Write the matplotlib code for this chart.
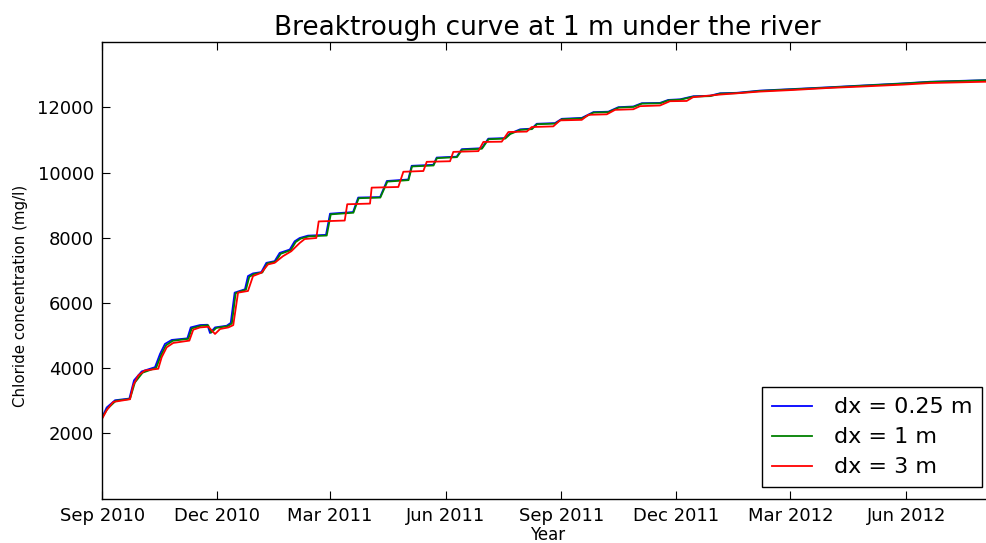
import numpy as np
import matplotlib
matplotlib.use("Agg")
import matplotlib.pyplot as plt
import matplotlib.dates as mdates
from datetime import datetime, timedelta

# ---- data (days since 2010-09-01, chloride in mg/l) ----
blue_days = [0, 3.5, 10.1, 21.5, 25.2, 31.3, 41.9, 45.9, 49.8, 55.2,
             67.6, 70.3, 77.7, 83.5, 85.6, 89.6, 98.9, 102.1, 105.2, 109.2,
             113.4, 115.8, 119.8, 126.4, 130.4, 137.0, 141.0, 149.0, 152.9, 156.9,
             163.5, 177.8, 181.0, 199.3, 203.4, 220.8, 226.2, 243.2, 245.9, 263.1,
             265.8, 281.7, 285.7, 301.6, 306.8, 320.1, 324.1, 332.1, 341.3, 345.3,
             359.8, 365.2, 381.1, 390.3, 402.2, 410.2, 422.1, 428.8, 443.3, 449.9,
             459.2, 469.8, 483.0, 491.0, 504.3, 522.8, 549.3, 576.8, 602.3, 636.7,
             657.9, 708]
blue_vals = [2506, 2793, 3015, 3067, 3625, 3899, 4030, 4439, 4744, 4866,
             4915, 5250, 5323, 5332, 5079, 5250, 5302, 5390, 6317, 6369,
             6420, 6826, 6908, 6948, 7232, 7284, 7537, 7640, 7893, 7994,
             8067, 8090, 8740, 8790, 9235, 9250, 9744, 9790, 10210, 10240,
             10463, 10490, 10720, 10750, 11043, 11060, 11200, 11329, 11350, 11500,
             11520, 11652, 11680, 11857, 11870, 12009, 12030, 12131, 12140, 12232,
             12250, 12345, 12360, 12436, 12450, 12518, 12567, 12619, 12671, 12740,
             12790, 12845]

green_days = [0, 4.2, 10.8, 22.0, 25.9, 32.0, 42.8, 46.7, 50.6, 56.0,
              68.4, 71.1, 78.5, 84.2, 86.6, 90.6, 99.8, 103.0, 106.0, 110.0,
              114.2, 116.8, 120.8, 127.2, 131.2, 137.8, 141.8, 149.8, 153.7, 157.7,
              164.3, 178.4, 181.6, 199.6, 203.8, 221.0, 226.6, 243.4, 246.2, 263.3,
              266.0, 281.9, 285.9, 301.8, 307.0, 320.3, 324.3, 332.3, 341.5, 345.5,
              360.0, 365.4, 381.3, 390.5, 402.4, 410.4, 422.3, 429.0, 443.5, 450.1,
              459.4, 470.0, 483.2, 491.2, 504.5, 523.0, 549.5, 577.0, 602.5, 636.9,
              658.1, 708]
green_vals = [2490, 2760, 3000, 3055, 3560, 3860, 4010, 4400, 4700, 4840,
              4900, 5220, 5300, 5315, 5090, 5235, 5290, 5370, 6300, 6355,
              6410, 6800, 6890, 6935, 7215, 7270, 7510, 7620, 7870, 7975,
              8045, 8070, 8720, 8770, 9215, 9235, 9725, 9770, 10190, 10220,
              10445, 10475, 10700, 10735, 11025, 11045, 11185, 11312, 11335, 11485,
              11505, 11638, 11665, 11843, 11857, 11995, 12017, 12118, 12128, 12220,
              12238, 12333, 12348, 12425, 12440, 12508, 12558, 12610, 12663, 12733,
              12783, 12840]

red_days = [0, 3.5, 8.7, 22.0, 24.6, 28.6, 33.9, 44.5, 47.2, 51.2,
            56.4, 69.2, 72.3, 77.7, 84.3, 89.6, 93.6, 100.2, 104.1, 107.9,
            115.8, 119.8, 126.4, 131.7, 137.0, 143.6, 150.2, 156.9, 160.9, 170.1,
            172.0, 192.7, 194.7, 212.8, 214.1, 235.3, 239.3, 255.2, 257.9, 276.4,
            279.0, 298.9, 302.9, 317.5, 322.8, 337.4, 341.3, 358.5, 363.8, 381.1,
            386.4, 401.0, 407.6, 422.1, 427.4, 443.3, 451.2, 464.5, 469.5, 491.0,
            522.8, 549.3, 576.8, 602.3, 636.5, 657.9, 708]
red_vals = [2457, 2710, 2963, 3046, 3473, 3777, 3930, 3982, 4335, 4640,
            4774, 4845, 5180, 5250, 5271, 5049, 5201, 5250, 5320, 6317,
            6369, 6826, 6927, 7183, 7232, 7436, 7588, 7841, 7963, 7994,
            8503, 8530, 9030, 9050, 9540, 9560, 10027, 10050, 10332, 10350,
            10637, 10660, 10942, 10950, 11247, 11260, 11399, 11420, 11604, 11620,
            11775, 11790, 11927, 11945, 12040, 12061, 12192, 12200, 12314, 12396,
            12488, 12537, 12598, 12640, 12701, 12750, 12795]

labels = ["dx = 0.25 m", "dx = 1 m", "dx = 3 m"]
tick_dates = ["2010-09-01", "2010-12-01", "2011-03-01", "2011-06-01",
              "2011-09-01", "2011-12-01", "2012-03-01", "2012-06-01"]
yticks = [2000, 4000, 6000, 8000, 10000, 12000]

start = datetime(2010, 9, 1)
def to_dates(days):
    return [start + timedelta(days=float(d)) for d in days]

plt.rcParams['font.family'] = ['DejaVu Sans']
fig = plt.figure(figsize=(9.86, 5.43), dpi=100)
W, H = 986, 543
left, right, bottom, top = 102.3, 993, 498.5, 42.3
ax = fig.add_axes([left / W, 1 - bottom / H, (right - left) / W, (bottom - top) / H])

ax.plot(to_dates(blue_days), blue_vals, color=(0, 0, 1), lw=1.3, label=labels[0])
ax.plot(to_dates(green_days), green_vals, color=(0, 0.5, 0), lw=1.3, label=labels[1])
ax.plot(to_dates(red_days), red_vals, color=(1, 0, 0), lw=1.3, label=labels[2])

ax.set_xlim(start, start + timedelta(days=708))
ax.set_ylim(0, 14000)
ax.set_yticks(yticks)
ax.set_yticklabels([str(v) for v in yticks])
ax.set_xticks([datetime.strptime(d, "%Y-%m-%d") for d in tick_dates])
ax.xaxis.set_major_formatter(mdates.DateFormatter("%b %Y"))
ax.tick_params(direction='in', length=6, width=0.8, top=True, right=False,
               labelsize=13, pad=6, colors='black')
for s in ax.spines.values():
    s.set_linewidth(1.0)

ax.set_title("Breaktrough curve at 1 m under the river", fontsize=19, pad=5)
ax.set_xlabel("Year", fontsize=12, labelpad=1)
ax.set_ylabel("Chloride concentration (mg/l)", fontsize=10.8)
ax.yaxis.set_label_coords((28 - left) / (right - left), (bottom - 296) / (bottom - top))

leg = ax.legend(loc='lower right', bbox_to_anchor=(982 / W, 1 - 487.3 / H),
                bbox_transform=fig.transFigure, borderaxespad=0, fontsize=16,
                fancybox=False, edgecolor='black', framealpha=1,
                handlelength=1.8, handletextpad=0.95, labelspacing=0.45,
                borderpad=0.45)
leg.get_frame().set_linewidth(1.0)

fig.savefig("out.png", dpi=100)
